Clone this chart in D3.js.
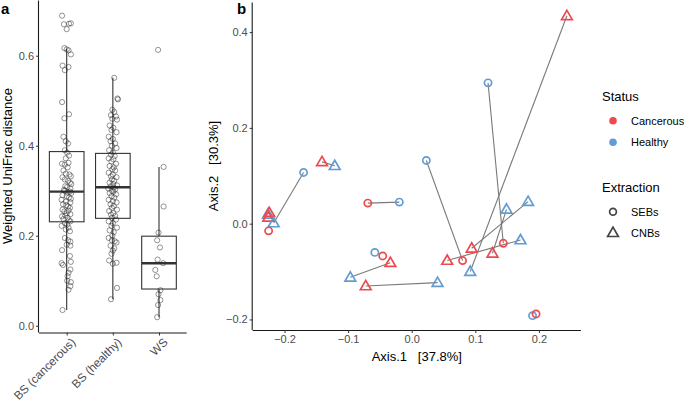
<!DOCTYPE html>
<html><head><meta charset="utf-8">
<script src="https://cdn.jsdelivr.net/npm/d3@7"></script>
<style>
body{margin:0;background:#fff;}
svg text{font-family:"Liberation Sans",Arial,Helvetica,sans-serif;white-space:pre;}
</style></head><body>
<svg id="c" width="685" height="403"></svg>
<script>
// ---------- Panel a data ----------
const categories = ["BS (cancerous)", "BS (healthy)", "WS"];
const yTicksA = [0.0, 0.2, 0.4, 0.6];
const boxQ1 = [0.231, 0.2387, 0.0816];
const boxMedian = [0.298, 0.3076, 0.139];
const boxQ3 = [0.387, 0.383, 0.199];
const whiskerLow = [0.035, 0.059, 0.019];
const whiskerHigh = [0.615, 0.551, 0.353];

const cancerousValues = [0.689,0.670,0.671,0.672,0.659,0.617,0.614,0.612,0.603,0.578,0.568,0.575,0.497,0.461,0.470,0.42,0.41,0.405,0.39,0.385,0.378,0.372,0.36,0.358,0.362,0.345,0.338,0.336,0.332,0.325,0.322,0.318,0.31,0.308,0.305,0.30,0.298,0.295,0.29,0.288,0.285,0.28,0.276,0.274,0.27,0.265,0.262,0.258,0.254,0.25,0.248,0.245,0.24,0.237,0.234,0.228,0.225,0.222,0.218,0.214,0.21,0.195,0.19,0.187,0.18,0.178,0.168,0.155,0.142,0.139,0.135,0.125,0.118,0.11,0.10,0.097,0.088,0.08,0.035,0.302,0.296,0.282,0.268,0.256,0.243,0.232,0.352,0.33,0.315];
const cancerousJitter = [-0.10,-0.06,0.05,0.09,0.00,-0.05,0.00,0.04,0.09,-0.09,-0.04,0.04,-0.10,-0.05,0.05,-0.07,-0.02,0.03,-0.04,0.01,0.05,-0.02,-0.10,-0.04,0.04,-0.07,-0.02,0.06,0.09,-0.04,0.03,0.07,-0.03,0.01,0.08,-0.04,0.07,0.10,-0.09,0.00,0.05,-0.11,-0.02,0.08,-0.08,0.03,0.07,-0.09,-0.05,0.00,0.08,-0.03,0.02,-0.07,0.05,-0.04,0.01,-0.11,0.04,-0.02,0.07,-0.04,0.03,0.08,0.00,0.08,-0.10,0.07,0.09,-0.11,-0.08,0.08,0.04,0.02,0.01,0.09,0.08,0.04,-0.09,-0.06,0.02,0.09,-0.01,0.04,-0.10,0.08,0.02,-0.09,0.10];

const healthyValues = [0.551,0.505,0.503,0.48,0.475,0.468,0.465,0.46,0.458,0.445,0.44,0.435,0.43,0.42,0.415,0.41,0.405,0.40,0.395,0.39,0.385,0.38,0.377,0.372,0.37,0.365,0.36,0.355,0.352,0.348,0.345,0.34,0.336,0.332,0.33,0.325,0.322,0.318,0.315,0.312,0.31,0.307,0.305,0.303,0.3,0.298,0.295,0.292,0.288,0.285,0.28,0.277,0.274,0.27,0.266,0.262,0.258,0.255,0.25,0.247,0.244,0.24,0.236,0.232,0.228,0.222,0.218,0.212,0.208,0.2,0.195,0.19,0.188,0.185,0.178,0.172,0.167,0.16,0.145,0.14,0.138,0.084,0.059];
const healthyJitter = [0.03,0.10,0.11,-0.01,0.03,-0.04,0.07,-0.01,0.09,-0.07,0.01,-0.03,0.08,-0.09,0.00,-0.05,0.05,-0.02,0.08,-0.08,0.00,-0.04,0.04,-0.09,0.01,-0.03,0.07,-0.07,0.02,-0.01,0.05,-0.09,0.00,-0.04,0.08,-0.02,0.03,-0.07,0.01,0.09,-0.04,0.02,-0.10,0.05,-0.02,0.01,-0.07,0.07,-0.03,0.03,-0.09,0.00,0.08,-0.05,0.02,-0.02,0.09,-0.08,0.01,-0.04,0.05,-0.02,0.07,-0.09,0.00,-0.03,0.09,-0.07,0.02,-0.01,-0.09,-0.02,0.04,0.08,-0.05,0.03,0.00,-0.03,-0.08,0.08,0.00,0.09,-0.04];

const wsValues = [0.613,0.353,0.265,0.207,0.19,0.174,0.147,0.139,0.124,0.11,0.079,0.070,0.057,0.046,0.019];
const wsJitter = [-0.02,0.10,0.10,-0.01,-0.04,0.02,-0.03,0.09,-0.08,-0.05,0.03,-0.01,0.03,-0.02,-0.04];

// ---------- Panel b data ----------
const pcoaX = [-0.141,-0.121,-0.170,0.023,0.244,0.120,-0.069,-0.0195,-0.226,-0.224,-0.2255,-0.217,-0.225,-0.058,-0.0456,-0.0336,-0.0965,-0.0723,0.0406,0.0558,0.183,0.149,0.171,0.144,0.0943,0.127,0.080,0.092,0.190,0.1955];
const pcoaY = [0.129,0.121,0.107,0.132,0.434,0.294,0.043,0.045,0.0196,0.023,0.0134,0.0015,-0.015,-0.060,-0.0674,-0.0814,-0.112,-0.130,-0.123,-0.0768,0.046,0.030,-0.034,-0.041,-0.0514,-0.0618,-0.077,-0.100,-0.192,-0.1885];
const pcoaStatus = ["Cancerous","Healthy","Healthy","Healthy","Cancerous","Healthy","Cancerous","Healthy","Healthy","Cancerous","Cancerous","Healthy","Cancerous","Healthy","Cancerous","Cancerous","Healthy","Cancerous","Healthy","Cancerous","Healthy","Healthy","Healthy","Cancerous","Cancerous","Cancerous","Cancerous","Healthy","Healthy","Cancerous"];
const pcoaExtraction = ["CNBs","CNBs","SEBs","SEBs","CNBs","SEBs","SEBs","SEBs","CNBs","CNBs","CNBs","CNBs","SEBs","SEBs","SEBs","CNBs","CNBs","CNBs","CNBs","CNBs","CNBs","CNBs","CNBs","SEBs","CNBs","CNBs","SEBs","CNBs","SEBs","SEBs"];
const segFrom = [2,0,6,3,5,4,20,21,22,18,15];
const segTo   = [11,1,7,26,23,27,24,25,19,17,16];
const xTicksB = [-0.2,-0.1,0.0,0.1,0.2];
const yTicksB = [-0.2,0.0,0.2,0.4];
const statusLevels = ["Cancerous","Healthy"];
const extractionLevels = ["SEBs","CNBs"];

// ---------- drawing ----------
const svg = d3.select("#c");
const tickCol = "#4d4d4d";
const axisCol = "#1a1a1a";

// Panel a
const ya = d3.scaleLinear().domain([-0.015, 0.7225]).range([332.5, 0.6]);
const xa = d3.scalePoint().domain(categories).range([39, 186.7]).padding(0.6);
const ga = svg.append("g");

const yAxA = ga.append("g").attr("transform","translate(39,0)")
  .call(d3.axisLeft(ya).tickValues(yTicksA).tickFormat(d3.format(".1f")).tickSize(3).tickPadding(2));
const xAxA = ga.append("g").attr("transform","translate(0,332.5)")
  .call(d3.axisBottom(xa).tickSize(3).tickFormat(""));
[yAxA,xAxA].forEach(a=>{
  a.select(".domain").attr("stroke",axisCol).attr("stroke-width",1.1);
  a.selectAll(".tick line").attr("stroke","#333").attr("stroke-width",1);
  a.selectAll(".tick text").attr("fill",tickCol).style("font-size","11px");
});
xAxA.select(".domain").attr("d","M39,0.5H186.7");
yAxA.select(".domain").attr("d","M-0.5,0.6V332.5");

ga.selectAll("text.xl").data(categories).join("text")
  .attr("class","xl")
  .attr("transform",d=>`translate(${xa(d)+3.5},${337}) rotate(-45)`)
  .attr("text-anchor","end").attr("dy","0.72em")
  .attr("fill",tickCol).style("font-size","11.8px").text(d=>d);

ga.append("text").attr("transform","translate(12,166) rotate(-90)")
  .attr("text-anchor","middle").style("font-size","13px").attr("fill","#000")
  .text("Weighted UniFrac distance");
ga.append("text").attr("x",1).attr("y",14).style("font-size","15px").style("font-weight","bold").text("a");

const bw = xa.step()*0.75;
categories.forEach((c,i)=>{
  const cx = xa(c);
  ga.append("line").attr("x1",cx).attr("x2",cx).attr("y1",ya(whiskerHigh[i])).attr("y2",ya(boxQ3[i]))
    .attr("stroke","#333").attr("stroke-width",1.1);
  ga.append("line").attr("x1",cx).attr("x2",cx).attr("y1",ya(boxQ1[i])).attr("y2",ya(whiskerLow[i]))
    .attr("stroke","#333").attr("stroke-width",1.1);
  ga.append("rect").attr("x",cx-bw/2).attr("width",bw).attr("y",ya(boxQ3[i])).attr("height",ya(boxQ1[i])-ya(boxQ3[i]))
    .attr("fill","#fff").attr("stroke","#333").attr("stroke-width",1.1);
  ga.append("line").attr("x1",cx-bw/2).attr("x2",cx+bw/2).attr("y1",ya(boxMedian[i])).attr("y2",ya(boxMedian[i]))
    .attr("stroke","#333").attr("stroke-width",2.4);
});
const jitterSets = [[cancerousValues,cancerousJitter],[healthyValues,healthyJitter],[wsValues,wsJitter]];
jitterSets.forEach(([vals,jit],i)=>{
  const cx = xa(categories[i]);
  ga.append("g").selectAll("circle").data(vals).join("circle")
    .attr("cx",(d,k)=>cx + jit[k]*xa.step())
    .attr("cy",d=>ya(d)).attr("r",2.6)
    .attr("fill","none").attr("stroke","#222").attr("stroke-opacity",0.6).attr("stroke-width",0.8);
});

// Panel b
const xb = d3.scaleLinear().domain([-0.25, 0.266]).range([252.7, 580.9]);
const yb = d3.scaleLinear().domain([-0.222, 0.462]).range([330, 2.4]);
const gb = svg.append("g");
const yAxB = gb.append("g").attr("transform","translate(252.7,0)")
  .call(d3.axisLeft(yb).tickValues(yTicksB).tickFormat(d3.format(".1f")).tickSize(3).tickPadding(2));
const xAxB = gb.append("g").attr("transform","translate(0,330)")
  .call(d3.axisBottom(xb).tickValues(xTicksB).tickFormat(d3.format(".1f")).tickSize(3).tickPadding(2));
[yAxB,xAxB].forEach(a=>{
  a.select(".domain").attr("stroke",axisCol).attr("stroke-width",1.1);
  a.selectAll(".tick line").attr("stroke","#333").attr("stroke-width",1);
  a.selectAll(".tick text").attr("fill",tickCol).style("font-size","11px");
});
yAxB.select(".domain").attr("d","M-0.5,2.4V330");
xAxB.select(".domain").attr("d","M252.7,0.5H580.9");
yAxB.selectAll(".tick text").text(d=>d3.format(".1f")(d).replace("-","\u2212"));
xAxB.selectAll(".tick text").text(d=>d3.format(".1f")(d).replace("-","\u2212"));

gb.append("text").attr("x",237).attr("y",14).style("font-size","15px").style("font-weight","bold").text("b");
gb.append("text").attr("x",416.8).attr("y",361).attr("text-anchor","middle").style("font-size","13px").text("Axis.1   [37.8%]");
gb.append("text").attr("transform","translate(218,166) rotate(-90)").attr("text-anchor","middle").style("font-size","13px").text("Axis.2   [30.3%]");

const colorScale = d3.scaleOrdinal().domain(statusLevels).range(["#ED4A50","#619DD4"]);
const triPath = d3.symbol().type(d3.symbolTriangle).size(50);

gb.append("g").selectAll("line").data(segFrom).join("line")
  .attr("x1",(d)=>xb(pcoaX[d])).attr("y1",d=>yb(pcoaY[d]))
  .attr("x2",(d,k)=>xb(pcoaX[segTo[k]])).attr("y2",(d,k)=>yb(pcoaY[segTo[k]]))
  .attr("stroke","#7a7a7a").attr("stroke-width",1.1);

const pts = pcoaX.map((x,i)=>({x, y:pcoaY[i], s:pcoaStatus[i], e:pcoaExtraction[i]}));
const gp = gb.append("g");
pts.forEach(p=>{
  if(p.e==="SEBs"){
    gp.append("circle").attr("cx",xb(p.x)).attr("cy",yb(p.y)).attr("r",3.6)
      .attr("fill","none").attr("stroke",colorScale(p.s)).attr("stroke-width",1.7);
  } else {
    gp.append("path").attr("d",triPath()).attr("transform",`translate(${xb(p.x)},${yb(p.y)+0.7})`)
      .attr("fill","none").attr("stroke",colorScale(p.s)).attr("stroke-width",1.7);
  }
});

// legend
const lg = svg.append("g");
lg.append("text").attr("x",602).attr("y",101).style("font-size","13px").text("Status");
statusLevels.forEach((s,i)=>{
  const yy = 120.7 + i*21.6;
  lg.append("circle").attr("cx",613).attr("cy",yy).attr("r",3.8).attr("fill",colorScale(s));
  lg.append("text").attr("x",631).attr("y",yy+4).style("font-size","11px").text(s);
});
lg.append("text").attr("x",602).attr("y",192).style("font-size","13px").text("Extraction");
extractionLevels.forEach((s,i)=>{
  const yy = 211.7 + i*21;
  if(s==="SEBs") lg.append("circle").attr("cx",613).attr("cy",yy).attr("r",3.4).attr("fill","none").attr("stroke","#444").attr("stroke-width",1.7);
  else lg.append("path").attr("d",triPath()).attr("transform",`translate(613,${yy+0.7})`).attr("fill","none").attr("stroke","#444").attr("stroke-width",1.7);
  lg.append("text").attr("x",631).attr("y",yy+4).style("font-size","11px").text(s);
});
</script></body></html>
